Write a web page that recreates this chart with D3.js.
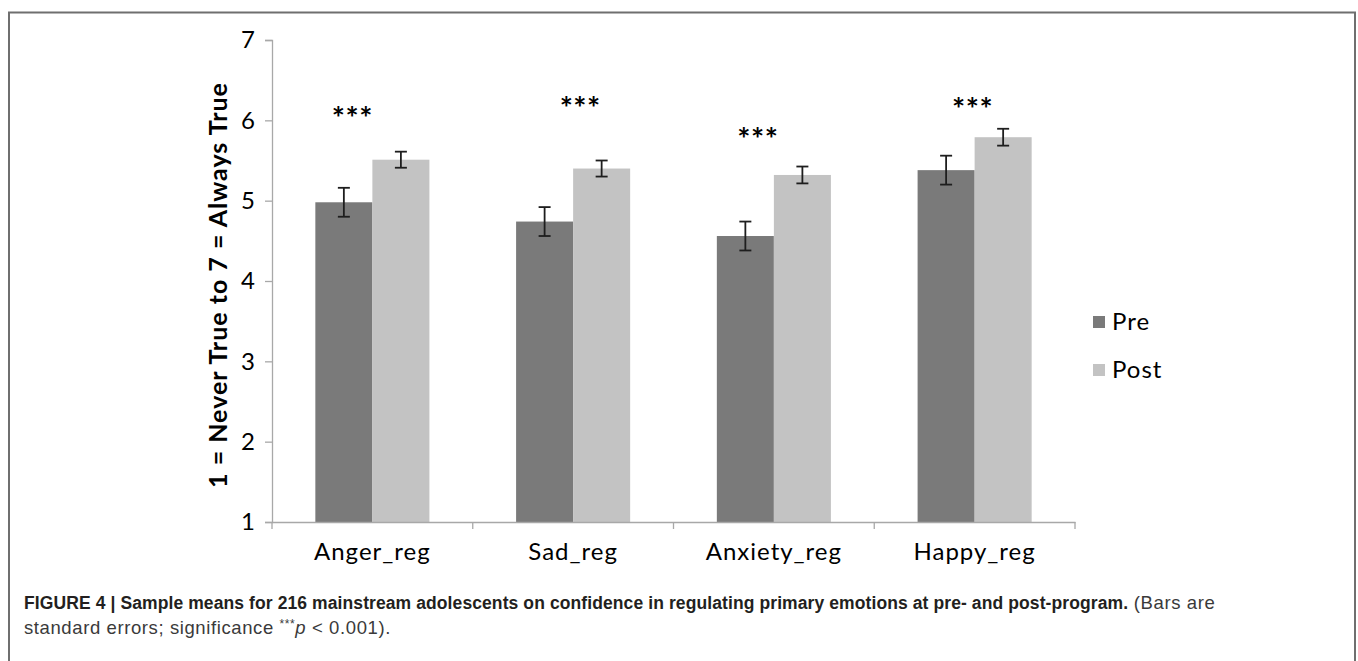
<!DOCTYPE html>
<html>
<head>
<meta charset="utf-8">
<script src="https://cdn.jsdelivr.net/npm/d3@7"></script>
<style>
  html, body { margin: 0; padding: 0; background: #fff; }
  svg { display: block; }
</style>
</head>
<body>
<svg id="chart" width="1358" height="661"></svg>
<script>
// Regulation scales and the two measurement occasions
const categories = ["Anger_reg", "Sad_reg", "Anxiety_reg", "Happy_reg"];
const seriesNames = ["Pre", "Post"];

// Sample means (1 = Never True ... 7 = Always True)
const preMeans  = [4.98, 4.74, 4.56, 5.38];
const postMeans = [5.51, 5.40, 5.32, 5.79];

// Standard errors
const preSE  = [0.18, 0.18, 0.18, 0.18];
const postSE = [0.10, 0.10, 0.105, 0.105];

// Significance markers and the level where each sits
const sigLabels = ["***", "***", "***", "***"];
const sigLevels = [6.0, 6.13, 5.74, 6.12];
const sigShift  = [-0.10, 0.035, -0.08, -0.01]; // fraction of a category band

const yTicks = [1, 2, 3, 4, 5, 6, 7];

const colors = { Pre: "#7a7a7a", Post: "#c3c3c3" };
const labelFont = "Lato, 'Open Sans', sans-serif";
const capFont = "'Liberation Sans', Arial, sans-serif";

const svg = d3.select("#chart");

// Figure frame
svg.append("path")
  .attr("d", "M9,700 V12.5 H1355 V700")
  .attr("fill", "none")
  .attr("stroke", "#6f6f6f")
  .attr("stroke-width", 2);

const plot = { left: 272, right: 1075, top: 40, bottom: 522 };

const x = d3.scaleBand().domain(categories).range([plot.left, plot.right]).padding(0);
const xs = d3.scaleBand().domain(seriesNames).range([0, x.bandwidth()]).paddingInner(0).paddingOuter(0.76);
const y = d3.scaleLinear().domain([1, 7]).range([plot.bottom, plot.top]);

const rows = categories.map((c, i) => ({
  cat: c,
  vals: [
    { s: "Pre", v: preMeans[i], se: preSE[i] },
    { s: "Post", v: postMeans[i], se: postSE[i] }
  ]
}));

// Y axis
const yAxis = svg.append("g")
  .attr("transform", `translate(${plot.left},0)`)
  .call(d3.axisLeft(y).tickValues(yTicks).tickSize(7).tickPadding(10).tickFormat(d3.format("d")));
yAxis.select(".domain").attr("stroke", "#a8a8a8").attr("stroke-width", 1.3);
yAxis.selectAll(".tick line").attr("stroke", "#a8a8a8").attr("stroke-width", 1.3);
yAxis.selectAll(".tick text")
  .attr("fill", "#000")
  .style("font-family", labelFont)
  .style("font-size", "24px");

// Bars
const groups = svg.append("g").selectAll("g")
  .data(rows).join("g")
  .attr("transform", d => `translate(${x(d.cat)},0)`);

groups.selectAll("rect")
  .data(d => d.vals).join("rect")
  .attr("x", d => xs(d.s))
  .attr("width", xs.bandwidth())
  .attr("y", d => y(d.v))
  .attr("height", d => y(1) - y(d.v))
  .attr("fill", d => colors[d.s]);

// Error bars
const capHalf = 6;
const eb = groups.selectAll("g.err")
  .data(d => d.vals).join("g")
  .attr("class", "err")
  .attr("stroke", "#1e1e1e")
  .attr("stroke-width", 1.8);
eb.append("line")
  .attr("x1", d => xs(d.s) + xs.bandwidth() / 2)
  .attr("x2", d => xs(d.s) + xs.bandwidth() / 2)
  .attr("y1", d => y(d.v + d.se))
  .attr("y2", d => y(d.v - d.se));
eb.append("line")
  .attr("x1", d => xs(d.s) + xs.bandwidth() / 2 - capHalf)
  .attr("x2", d => xs(d.s) + xs.bandwidth() / 2 + capHalf)
  .attr("y1", d => y(d.v + d.se))
  .attr("y2", d => y(d.v + d.se));
eb.append("line")
  .attr("x1", d => xs(d.s) + xs.bandwidth() / 2 - capHalf)
  .attr("x2", d => xs(d.s) + xs.bandwidth() / 2 + capHalf)
  .attr("y1", d => y(d.v - d.se))
  .attr("y2", d => y(d.v - d.se));

// X axis baseline with boundary ticks
const xAxis = svg.append("g")
  .attr("transform", `translate(0,${plot.bottom})`)
  .call(d3.axisBottom(x).tickSize(0).tickPadding(21));
xAxis.select(".domain").attr("stroke", "#a8a8a8").attr("stroke-width", 1.3);
xAxis.selectAll(".tick text")
  .attr("fill", "#000")
  .style("font-family", labelFont)
  .style("font-size", "24px")
  .style("letter-spacing", "1px");
const bounds = categories.map(c => x(c)).concat([x(categories[categories.length - 1]) + x.bandwidth()]);
xAxis.selectAll("line.bound")
  .data(bounds).join("line")
  .attr("class", "bound")
  .attr("x1", d => d).attr("x2", d => d)
  .attr("y1", 0).attr("y2", 7)
  .attr("stroke", "#a8a8a8").attr("stroke-width", 1.3);

// Significance stars
svg.append("g").selectAll("text")
  .data(categories).join("text")
  .attr("x", (c, i) => x(c) + x.bandwidth() / 2 + sigShift[i] * x.bandwidth())
  .attr("y", (c, i) => y(sigLevels[i]) + 9)
  .attr("text-anchor", "middle")
  .style("font-family", labelFont)
  .style("font-size", "31px")
  .style("font-weight", "700")
  .style("letter-spacing", "0.5px")
  .text((c, i) => sigLabels[i]);

// Y axis title
svg.append("text")
  .attr("transform", `translate(227,${(plot.top + plot.bottom) / 2 + 4}) rotate(-90)`)
  .attr("text-anchor", "middle")
  .style("font-family", labelFont)
  .style("font-size", "25px")
  .style("font-weight", "700")
  .style("letter-spacing", "1px")
  .text("1 = Never True to 7 = Always True");

// Legend
const legend = svg.append("g").selectAll("g")
  .data(seriesNames).join("g")
  .attr("transform", (d, i) => `translate(1093,${316 + i * 48})`);
legend.append("rect")
  .attr("width", 12).attr("height", 12)
  .attr("fill", d => colors[d]);
legend.append("text")
  .attr("x", 19).attr("y", 14)
  .style("font-family", labelFont)
  .style("font-size", "24px")
  .style("letter-spacing", "1px")
  .text(d => d);

// Caption, first line: bold title followed by the start of the note
const cap = svg.append("text")
  .attr("x", 24).attr("y", 609)
  .style("font-family", capFont);
cap.append("tspan")
  .attr("fill", "#231f20")
  .style("font-weight", "700")
  .style("font-size", "17.5px")
  .attr("textLength", 1104)
  .attr("lengthAdjust", "spacing")
  .text("FIGURE 4 | Sample means for 216 mainstream adolescents on confidence in regulating primary emotions at pre- and post-program.");
cap.append("tspan")
  .attr("fill", "#3a3a3a")
  .style("font-size", "18.5px")
  .style("letter-spacing", "0.6px")
  .text(" (Bars are");

// Caption, second line
const cap2 = svg.append("text")
  .attr("x", 24).attr("y", 634)
  .attr("fill", "#3a3a3a")
  .style("font-family", capFont)
  .style("font-size", "18.5px")
  .style("letter-spacing", "0.6px");
cap2.append("tspan").text("standard errors; significance ");
cap2.append("tspan").attr("dy", -6).style("font-size", "12px").text("***");
cap2.append("tspan").attr("dy", 6).style("font-style", "italic").text("p");
cap2.append("tspan").text(" < 0.001).");
</script>
</body>
</html>
